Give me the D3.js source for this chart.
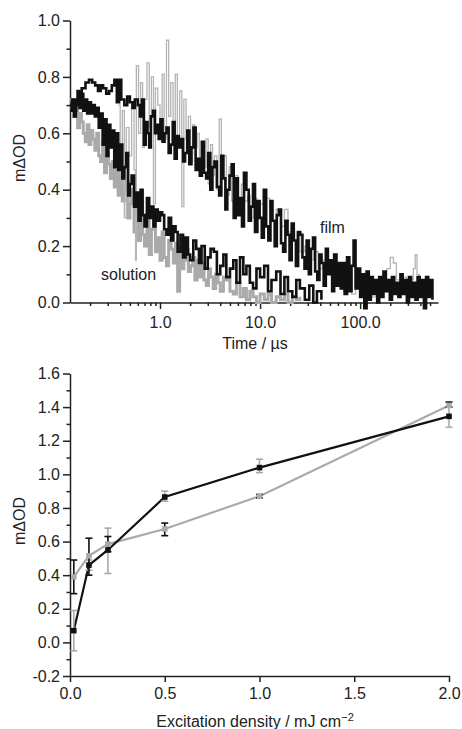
<!DOCTYPE html>
<html>
<head>
<meta charset="utf-8">
<script src="https://cdn.jsdelivr.net/npm/d3@7"></script>
<style>
  body { margin: 0; background: #fff; }
  svg { font-family: "Liberation Sans", Arial, sans-serif; }
  .axis text { font-size: 16px; fill: #222; }
  .axis path, .axis line { stroke: #222; stroke-width: 1.5; }
  .label { font-size: 16px; fill: #222; }
</style>
</head>
<body>
<svg id="chart" width="462" height="729"></svg>
<script>
// ---- top panel: transient decays (time in microseconds, mΔOD) ----
let filmBlackT = [0.126,0.135,0.145,0.155,0.165,0.18,0.195,0.21,0.225,0.24,0.255,0.27,0.29,0.31,0.33,0.35,0.37,0.39,0.41,0.44,0.47,0.50,0.53,0.56,0.60,0.63,
  0.66,0.69,0.72,0.75,0.78,0.81,0.85,0.89,0.93,0.97,1.01,1.06,1.11,1.16,1.22,1.28,1.34,1.40,1.47,1.54,1.62,1.70,1.78,1.87,1.96,2.06,2.16,2.27,2.38,2.50,2.62,2.75,2.89,3.03,3.18,3.34,
  3.5,3.7,3.9,4.1,4.3,4.5,4.7,4.95,5.2,5.45,5.7,6.0,6.3,6.6,6.9,7.3,7.7,8.1,8.5,8.9,9.4,9.9,10.4,10.9,11.5,12.1,12.7,13.3,14,14.7,15.4,16.2,17,17.9,18.8,19.7,20.7,21.7,22.8,24,25.2,26.5,27.8,29.2,30.7,32.2,33.8,35.5,37.3,39.2,41.1,43.2,45.4,47.6,
  50,52.5,55,58,61,64,67,70,74,78,82,86,90,95,100,105,110,116,122,128,134,141,148,155,163,171,180,189,198,208,219,230,241,253,266,279,293,308,323,340,357,375,394,413,434,456,479,503,528]
let filmBlackV = [0.70,0.68,0.72,0.74,0.76,0.78,0.79,0.78,0.77,0.75,0.77,0.76,0.74,0.75,0.77,0.79,0.71,0.79,0.72,0.70,0.73,0.71,0.69,0.72,0.70,0.66,
  0.72,0.56,0.64,0.60,0.55,0.66,0.68,0.60,0.63,0.58,0.65,0.57,0.60,0.62,0.53,0.56,0.64,0.51,0.59,0.55,0.58,0.50,0.53,0.61,0.49,0.55,0.62,0.47,0.51,0.45,0.57,0.46,0.44,0.53,0.40,0.48,
  0.50,0.41,0.38,0.52,0.44,0.33,0.40,0.45,0.49,0.30,0.44,0.31,0.37,0.27,0.46,0.40,0.29,0.34,0.42,0.25,0.36,0.30,0.23,0.40,0.27,0.22,0.36,0.29,0.20,0.31,0.33,0.21,0.18,0.29,0.24,0.15,0.28,0.22,0.13,0.25,0.24,0.16,0.12,0.22,0.10,0.19,0.23,0.11,0.08,0.17,0.14,0.06,0.19,0.10,
  0.15,0.04,0.17,0.06,0.14,0.05,0.14,0.03,0.16,0.04,0.13,0.22,0.05,0.12,0.02,0.10,-0.02,0.11,0.01,0.09,0.03,0.08,0.00,0.09,0.02,0.11,0.04,0.08,0.01,0.09,0.03,0.07,0.02,0.10,0.03,0.08,0.00,0.09,0.02,0.07,0.01,0.09,0.02,0.08,-0.02,0.09,0.02,0.08,0.01]

let filmGreyT = [0.38,0.40,0.42,0.44,0.46,0.49,0.52,0.55,0.57,0.58,0.61,0.64,0.67,0.70,0.74,0.78,0.82,0.86,0.90,0.95,1.0,1.05,1.10,1.16,1.22,1.28,1.35,1.42,1.49,1.57,1.65,1.73,1.82,1.92,2.02,2.12,2.23,2.35,2.47,2.6,2.74,2.88,3.03,3.2,3.35,3.5,3.7,3.9,4.1,4.3,4.6,4.9,5.2,5.6,6.0,6.5,7.0,7.5,8.0,8.6,9.3,10,10.8,11.6,12.5,13.5,14.5,16,17.5,19,21,23,25,28,31,34,38,42,46,51,56,62,68,75,82,90,
  100,115,130,150,170,185,200,215,230,250,270,290,315,340,355,370,390,420,450,480,510]
let filmGreyV = [0.70,0.45,0.68,0.30,0.62,0.52,0.70,0.47,0.15,0.84,0.60,0.78,0.55,0.72,0.85,0.62,0.80,0.35,0.76,0.70,0.60,0.81,0.58,0.93,0.66,0.78,0.60,0.81,0.55,0.75,0.34,0.72,0.58,0.66,0.50,0.63,0.55,0.60,0.45,0.57,0.48,0.58,0.42,0.56,0.45,0.52,0.40,0.65,0.48,0.52,0.38,0.48,0.36,0.45,0.33,0.42,0.36,0.38,0.30,0.37,0.30,0.35,0.31,0.37,0.33,0.29,0.33,0.27,0.33,0.25,0.22,0.25,0.18,0.20,0.15,0.18,0.12,0.15,0.10,0.13,0.06,0.10,0.04,0.09,0.03,0.07,
  0.03,0.06,0.02,0.07,0.05,0.12,0.16,0.14,0.08,0.05,0.09,0.04,0.08,0.12,0.17,0.10,0.05,0.07,0.03,0.06,0.02]

let solBlackT = [0.126,0.132,0.138,0.144,0.15,0.157,0.164,0.171,0.179,0.187,0.195,0.204,0.213,0.223,0.233,0.244,0.255,0.267,0.279,0.292,0.305,0.319,0.334,0.349,0.365,0.382,0.40,0.42,0.44,0.46,0.48,0.50,0.52,0.55,0.58,0.61,0.64,0.67,0.70,0.74,0.78,0.82,0.86,0.90,0.95,1.0,1.05,1.1,1.16,1.22,1.29,1.36,1.43,1.5,1.6,1.7,1.8,1.9,2.0,2.15,2.3,2.45,2.6,2.8,3.0,3.2,3.45,3.7,4.0,4.3,4.6,5.0,5.4,5.8,6.3,6.8,7.3,7.9,8.5,9.2,10,11,12,13,14.5,16,17.5,19,21,23,25,28,31,34,37,41]
let solBlackV = [0.68,0.72,0.66,0.70,0.75,0.69,0.74,0.68,0.72,0.67,0.71,0.67,0.70,0.66,0.69,0.62,0.67,0.56,0.65,0.52,0.63,0.55,0.61,0.48,0.60,0.47,
  0.56,0.44,0.48,0.53,0.38,0.42,0.45,0.34,0.39,0.29,0.40,0.31,0.27,0.37,0.30,0.34,0.27,0.33,0.29,0.32,0.31,0.26,0.24,0.30,0.22,0.27,0.25,0.18,0.24,0.16,
  0.23,0.17,0.15,0.22,0.19,0.14,0.20,0.12,0.16,0.19,0.18,0.10,0.13,0.17,0.09,0.12,0.15,0.07,0.16,0.10,0.13,0.07,0.05,0.12,0.09,0.13,0.04,0.08,0.11,0.03,0.09,0.04,0.02,0.08,0.05,0.01,0.06,0.00,0.04,0.01]

let solGreyT = [0.126,0.132,0.138,0.144,0.15,0.157,0.164,0.171,0.179,0.187,0.195,0.204,0.213,0.223,0.233,0.244,0.255,0.267,0.279,0.292,0.305,0.319,0.334,0.349,0.365,0.382,0.40,0.42,0.44,0.46,0.48,0.50,0.52,0.55,0.58,0.61,0.64,0.67,0.70,0.74,0.78,0.82,0.86,0.90,0.95,1.0,1.05,1.1,1.16,1.22,1.29,1.36,1.43,1.5,1.57,1.65,1.73,1.82,1.92,2.02,2.12,2.23,2.35,2.47,2.6,2.75,2.9,3.05,3.2,3.4,3.6,3.8,4.0,4.3,4.6,5.0,5.4,5.8,6.3,6.8,7.3,7.9,8.5,9.2,10,11,12,13,14.5,16,17.5,19,21,23,25]
let solGreyV = [0.72,0.68,0.66,0.70,0.62,0.67,0.64,0.60,0.57,0.63,0.56,0.61,0.58,0.54,0.60,0.52,0.50,0.57,0.46,0.53,0.49,0.44,0.50,0.41,0.47,0.38,
  0.46,0.36,0.40,0.43,0.30,0.35,0.40,0.25,0.33,0.22,0.36,0.24,0.20,0.32,0.17,0.26,0.30,0.18,0.23,0.15,0.25,0.16,0.13,0.22,0.19,0.14,0.21,0.04,
  0.20,0.12,0.15,0.19,0.11,0.13,0.16,0.08,0.15,0.09,0.14,0.08,0.06,0.12,0.09,0.05,0.10,0.07,0.04,0.09,0.08,0.04,0.03,0.07,0.02,0.05,0.01,0.04,0.02,0.00,
  0.03,0.01,0.03,0.00,0.02,0.01,0.03,0.00,0.02,0.01,0.02]

let timeTicks = [1, 10, 100]
let timeTickLabels = ["1.0", "10.0", "100.0"]

// ---- bottom panel: signal vs excitation density ----
let density = [0.02, 0.1, 0.2, 0.5, 1.0, 2.0]
let darkOD = [0.07, 0.46, 0.55, 0.865, 1.04, 1.345]
let darkLo = [-0.05, 0.43, 0.41, 0.84, 1.01, 1.28]
let darkHi = [0.19, 0.49, 0.68, 0.90, 1.09, 1.40]
let lightOD = [0.39, 0.515, 0.585, 0.675, 0.87, 1.41]
let lightLo = [0.29, 0.40, 0.54, 0.635, 0.86, 1.40]
let lightHi = [0.49, 0.62, 0.63, 0.71, 0.88, 1.43]

let black = "#111"
let grey = "#aaa"

let svg = d3.select("#chart")

//STEP 1: top panel scales and axes
let x1 = d3.scaleLog().domain([0.126, 600]).range([70, 438])
let y1 = d3.scaleLinear().domain([0, 1]).range([302.5, 20.5])

let minorTimes = []
for (let dec of [0.1, 1, 10, 100]) {
  for (let k = 2; k <= 9; k++) {
    let t = dec * k
    if (t > 0.126 && t < 600) minorTimes.push(t)
  }
}

svg.append("g").attr("class", "axis")
  .attr("transform", "translate(0,302.5)")
  .call(d3.axisBottom(x1).tickValues(minorTimes).tickSize(3.5).tickFormat(""))
  .call(g => g.select(".domain").remove())

svg.append("g").attr("class", "axis")
  .attr("transform", "translate(0,302.5)")
  .call(d3.axisBottom(x1).tickValues(timeTicks).tickSize(6.5).tickSizeOuter(0).tickPadding(8)
    .tickFormat((d, i) => timeTickLabels[i]))

svg.append("g").attr("class", "axis")
  .attr("transform", "translate(70,0)")
  .call(d3.axisLeft(y1).tickValues(d3.range(1, 10, 2).map(d => d / 10)).tickSize(3.5).tickFormat(""))
  .call(g => g.select(".domain").remove())

svg.append("g").attr("class", "axis")
  .attr("transform", "translate(70,0)")
  .call(d3.axisLeft(y1).tickValues([0, 0.2, 0.4, 0.6, 0.8, 1.0]).tickSize(7).tickSizeOuter(0).tickPadding(3)
    .tickFormat(d3.format(".1f")))

//STEP 2: decay traces, drawn as steps like the recorded data
let trace = d3.line()
  .x(d => x1(d[0]))
  .y(d => y1(d[1]))
  .curve(d3.curveStepAfter)

function addTrace(ts, vs, colour, w) {
  svg.append("path")
    .datum(ts.map((t, i) => [t, vs[i]]))
    .attr("d", trace)
    .attr("fill", "none")
    .attr("stroke", colour)
    .attr("stroke-width", w)
    .attr("stroke-linejoin", "miter")
}

addTrace(solGreyT, solGreyV, grey, 3.0)
addTrace(filmGreyT, filmGreyV, "#b4b4b4", 1.3)
addTrace(solBlackT, solBlackV, black, 2.6)
addTrace(filmBlackT, filmBlackV, black, 2.6)

svg.append("text").attr("class", "label").attr("x", 320).attr("y", 233).text("film")
svg.append("text").attr("class", "label").attr("x", 101).attr("y", 280).text("solution")

svg.append("text").attr("class", "label")
  .attr("x", 255).attr("y", 349)
  .attr("text-anchor", "middle")
  .text("Time / µs")

svg.append("text").attr("class", "label")
  .attr("transform", "translate(25,158) rotate(-90)")
  .attr("text-anchor", "middle")
  .text("mΔOD")

//STEP 3: bottom panel scales and axes
let x2 = d3.scaleLinear().domain([0, 2]).range([70, 449])
let y2 = d3.scaleLinear().domain([-0.2, 1.6]).range([676, 373.5])

svg.append("g").attr("class", "axis")
  .attr("transform", "translate(0,676)")
  .call(d3.axisBottom(x2).tickValues([0, 0.5, 1.0, 1.5, 2.0]).tickSize(6).tickSizeOuter(0).tickPadding(6)
    .tickFormat(d3.format(".1f")))

svg.append("g").attr("class", "axis")
  .attr("transform", "translate(70,0)")
  .call(d3.axisLeft(y2).tickValues(d3.range(-1, 16, 2).map(d => d / 10)).tickSize(3.5).tickFormat(""))
  .call(g => g.select(".domain").remove())

svg.append("g").attr("class", "axis")
  .attr("transform", "translate(70,0)")
  .call(d3.axisLeft(y2).tickValues(d3.range(-2, 17, 2).map(d => d / 10)).tickSize(7).tickSizeOuter(0).tickPadding(3)
    .tickFormat(d => d3.format(".1f")(d).replace("−", "-")))

let pts = d3.line()
  .x(d => x2(d[0]))
  .y(d => y2(d[1]))

function addSeries(vals, lo, hi, colour, barColour) {
  let data = density.map((x, i) => ({x: x, y: vals[i], lo: lo[i], hi: hi[i]}))
  return {data: data, colour: colour, barColour: barColour}
}

let dark = addSeries(darkOD, darkLo, darkHi, black, grey)
let light = addSeries(lightOD, lightLo, lightHi, grey, black)

// lines first
for (let s of [light, dark]) {
  svg.append("path")
    .datum(s.data.map(d => [d.x, d.y]))
    .attr("d", pts)
    .attr("fill", "none")
    .attr("stroke", s.colour)
    .attr("stroke-width", 2.2)
}

// error bars (each series carries the other colour, as in the figure)
for (let s of [dark, light]) {
  let bars = svg.append("g")
    .attr("stroke", s.barColour)
    .attr("stroke-width", 1.6)
  bars.selectAll(".v").data(s.data).enter().append("line")
    .attr("x1", d => x2(d.x)).attr("x2", d => x2(d.x))
    .attr("y1", d => y2(d.lo)).attr("y2", d => y2(d.hi))
  bars.selectAll(".t").data(s.data).enter().append("line")
    .attr("x1", d => x2(d.x) - 3.5).attr("x2", d => x2(d.x) + 3.5)
    .attr("y1", d => y2(d.hi)).attr("y2", d => y2(d.hi))
  bars.selectAll(".b").data(s.data).enter().append("line")
    .attr("x1", d => x2(d.x) - 3.5).attr("x2", d => x2(d.x) + 3.5)
    .attr("y1", d => y2(d.lo)).attr("y2", d => y2(d.lo))
}

// square markers
for (let s of [light, dark]) {
  svg.selectAll(null).data(s.data).enter().append("rect")
    .attr("x", d => x2(d.x) - 2.8)
    .attr("y", d => y2(d.y) - 2.8)
    .attr("width", 5.6)
    .attr("height", 5.6)
    .attr("fill", s.colour)
}

let xt = svg.append("text").attr("class", "label")
  .attr("x", 255).attr("y", 727)
  .attr("text-anchor", "middle")
xt.append("tspan").text("Excitation density / mJ cm")
xt.append("tspan").attr("dy", -6).attr("font-size", "11px").text("−2")

svg.append("text").attr("class", "label")
  .attr("transform", "translate(25,521) rotate(-90)")
  .attr("text-anchor", "middle")
  .text("mΔOD")
</script>
</body>
</html>
